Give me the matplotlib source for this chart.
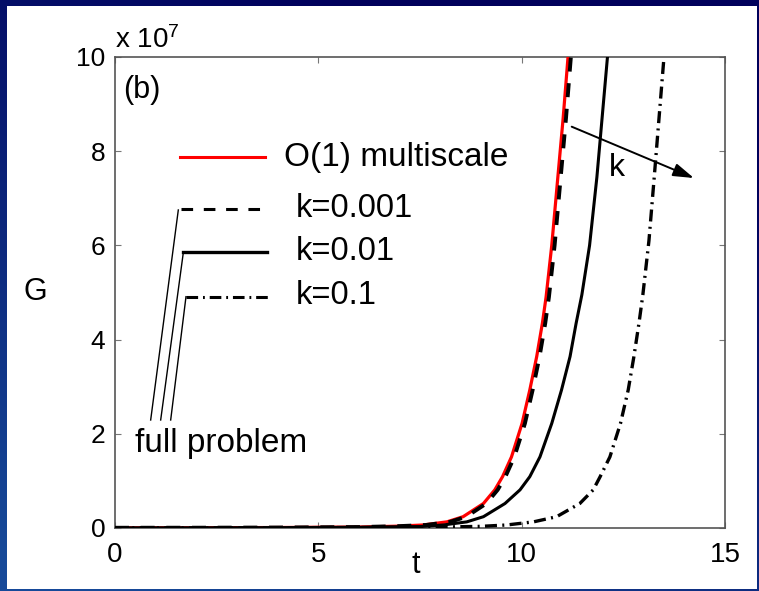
import numpy as np
import matplotlib
matplotlib.use("Agg")
import matplotlib.pyplot as plt
from matplotlib.patches import Rectangle

plt.rcParams['font.family'] = ['Liberation Sans', 'DejaVu Sans']
plt.rcParams['mathtext.fontset'] = 'custom'
plt.rcParams['mathtext.rm'] = 'Liberation Sans'
plt.rcParams['mathtext.it'] = 'Liberation Sans:italic'

# growth G (units of 1e7) against time t
t_multiscale = [0, 2, 4, 6, 7, 7.57, 8.16, 8.56, 9.06, 9.34, 9.53, 9.75, 10.01,
                10.20, 10.37, 10.51, 10.60, 10.74, 10.89, 11.02, 11.14]
g_multiscale = [0.005, 0.006, 0.01, 0.02, 0.04, 0.064, 0.13, 0.24, 0.52, 0.81,
                1.09, 1.51, 2.22, 2.93, 3.64, 4.35, 4.90, 6.0, 7.45, 8.7, 10.0]

t_k001 = [0, 2, 4, 6, 7, 7.65, 8.24, 8.64, 9.13, 9.41, 9.60, 9.82, 10.08,
          10.27, 10.44, 10.58, 10.67, 10.81, 10.96, 11.09, 11.21]
g_k001 = [0.005, 0.006, 0.01, 0.02, 0.04, 0.064, 0.13, 0.24, 0.52, 0.81,
          1.09, 1.51, 2.22, 2.93, 3.64, 4.35, 4.90, 6.0, 7.45, 8.7, 10.0]

t_k01 = [0, 2, 4, 6, 7.5, 8.07, 8.65, 9.06, 9.59, 9.96, 10.20, 10.45, 10.74,
         10.98, 11.19, 11.34, 11.48, 11.67, 11.85, 12.11]
g_k01 = [0.004, 0.005, 0.008, 0.015, 0.03, 0.064, 0.13, 0.24, 0.52, 0.81,
         1.09, 1.51, 2.22, 2.93, 3.64, 4.35, 4.95, 6.0, 7.45, 10.0]

t_k1 = [0, 2, 4, 6, 8, 9.0, 9.63, 10.29, 10.86, 11.43, 11.76, 11.93, 12.17,
        12.43, 12.62, 12.76, 12.885, 12.98, 13.13, 13.26, 13.50]
g_k1 = [0.003, 0.004, 0.006, 0.01, 0.02, 0.035, 0.064, 0.13, 0.24, 0.52, 0.81,
        1.09, 1.51, 2.22, 2.93, 3.64, 4.35, 4.95, 6.1, 7.45, 10.0]

x_ticks = [0, 5, 10, 15]
y_ticks = [0, 2, 4, 6, 8, 10]

fig = plt.figure(figsize=(7.59, 5.91), dpi=100)

# slide backdrop: navy shading into lighter blue at the lower left
bg = fig.add_axes([0, 0, 1, 1])
yy, xx = np.mgrid[0:1:200j, 0:1:200j]
w = np.clip(yy * 0.85 + (1 - xx) * 0.45 - 0.25, 0, 1)[..., None]
dark = np.array([0.0, 0.0, 0.36])
light = np.array([0.09, 0.29, 0.60])
bg.imshow(dark * (1 - w) + light * w, aspect='auto', extent=[0, 1, 0, 1],
          origin='upper')
bg.add_patch(Rectangle((7 / 759, 2 / 591), 750 / 759, 583 / 591,
                       transform=bg.transAxes, facecolor='white', lw=0))
bg.set_xlim(0, 1)
bg.set_ylim(0, 1)
bg.axis('off')

ax = fig.add_axes([0.1515, 0.1066, 0.8037, 0.7970])
ax.plot(t_multiscale, g_multiscale, color='red', lw=2.3, zorder=3)
ax.plot(t_k001, g_k001, color='black', lw=2.8, linestyle=(0, (3.6, 3.0)), zorder=4)
ax.plot(t_k01, g_k01, color='black', lw=2.2, zorder=4)
ax.plot(t_k1, g_k1, color='black', lw=2.4, linestyle=(0, (3.6, 1.6, 0.6, 1.6)), zorder=4)

ax.set_xlim(0, 15)
ax.set_ylim(0, 10)
ax.set_xticks(x_ticks)
ax.set_yticks(y_ticks)
ax.set_xticklabels([str(v) for v in x_ticks])
ax.set_yticklabels([str(v) for v in y_ticks])
ax.tick_params(direction='in', length=4, width=0.8, color='#777777',
               top=True, right=True)
ax.tick_params(axis='x', pad=10, labelsize=20)
ax.tick_params(axis='y', pad=7, labelsize=19)
for s in ax.spines.values():
    s.set_color('#555555')
    s.set_linewidth(1.2)

ax.set_xlabel('t', fontsize=22, va='center')
ax.set_ylabel('G', fontsize=22, rotation=0, va='center', ha='center')
ax.xaxis.set_label_coords(0.493, -0.078)
ax.yaxis.set_label_coords(-0.131, 0.50)

ax.text(0.0, 1.019, r'x 10$^{7}$', transform=ax.transAxes, fontsize=20,
        ha='left', va='baseline')
ax.text(0.013, 0.929, '(b)', transform=ax.transAxes, fontsize=22, va='center')

# hand-drawn key
ax.plot([0.1066, 0.2459], [0.7877, 0.7877], transform=ax.transAxes, color='red', lw=2.2)
ax.plot([0.1082, 0.2377], [0.6762, 0.6762], transform=ax.transAxes, color='black',
        lw=2.2, linestyle=(0, (3.8, 3.5)))
ax.plot([0.1115, 0.2492], [0.5849, 0.5849], transform=ax.transAxes, color='black', lw=2.4)
ax.plot([0.1164, 0.2541], [0.4904, 0.4904], transform=ax.transAxes, color='black',
        lw=2.2, linestyle=(0, (3.8, 1.6, 0.6, 1.6)))
for (x0, y0), (x1, y1) in [((0.1038, 0.6752), (0.0585, 0.2293)),
                           ((0.1120, 0.5845), (0.0749, 0.2293)),
                           ((0.1164, 0.4911), (0.0913, 0.2293))]:
    ax.plot([x0, x1], [y0, y1], transform=ax.transAxes, color='black', lw=1.0)

ax.text(0.277, 0.787, 'O(1) multiscale', transform=ax.transAxes, fontsize=24, va='center')
ax.text(0.2967, 0.679, 'k=0.001', transform=ax.transAxes, fontsize=23.5, va='center')
ax.text(0.2967, 0.588, 'k=0.01', transform=ax.transAxes, fontsize=23.5, va='center')
ax.text(0.2967, 0.494, 'k=0.1', transform=ax.transAxes, fontsize=23.5, va='center')
ax.text(0.0328, 0.162, 'full problem', transform=ax.transAxes, fontsize=24, va='baseline')

# direction of increasing k
ax.annotate('', xy=(0.949, 0.743), xytext=(0.7487, 0.852),
            xycoords='axes fraction', textcoords='axes fraction',
            arrowprops=dict(arrowstyle='-|>,head_length=0.7,head_width=0.22',
                            color='black', lw=1.4, mutation_scale=18,
                            shrinkA=0, shrinkB=0))
ax.text(0.822, 0.764, 'k', transform=ax.transAxes, fontsize=23,
        ha='center', va='center')

fig.savefig('out.png', dpi=100)
